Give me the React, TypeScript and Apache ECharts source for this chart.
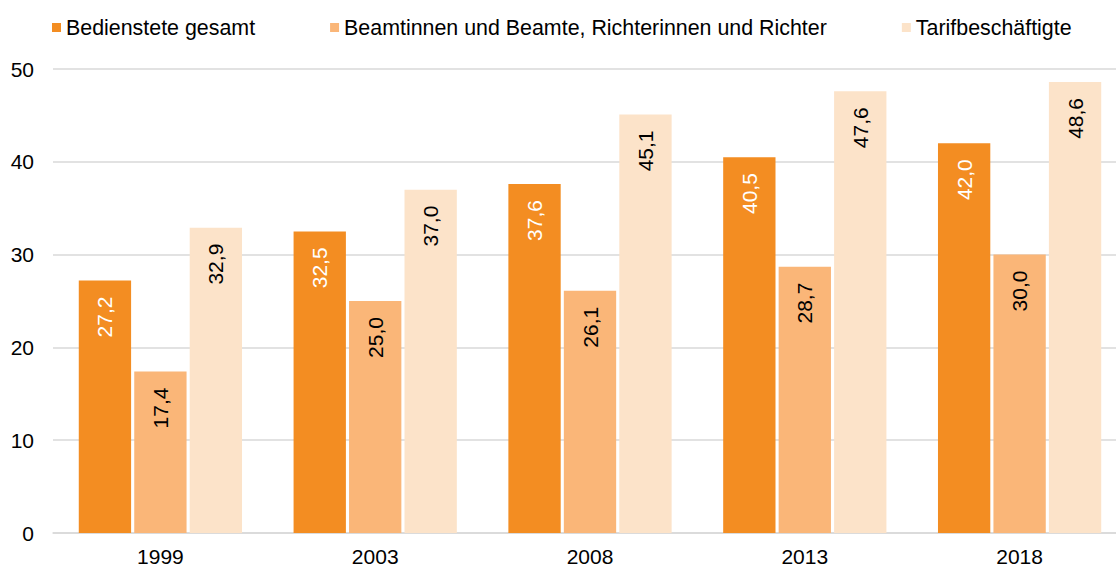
import React, { useEffect, useRef } from "react";
import * as echarts from "echarts";

const years = ["1999", "2003", "2008", "2013", "2018"];
const seriesNames = [
  "Bedienstete gesamt",
  "Beamtinnen und Beamte, Richterinnen und Richter",
  "Tarifbeschäftigte",
];
const bedienstete = [27.2, 32.5, 37.6, 40.5, 42.0];
const beamte = [17.4, 25.0, 26.1, 28.7, 30.0];
const tarif = [32.9, 37.0, 45.1, 47.6, 48.6];
const yTicks = { min: 0, max: 50, interval: 10 };

const colors = ["#F38D22", "#FAB678", "#FCE3C9"];
const labelColors = ["#FFFFFF", "#000000", "#000000"];
const FONT = '"Liberation Sans", Arial, sans-serif';

export default function App() {
  const ref = useRef<HTMLDivElement>(null);
  useEffect(() => {
    if (!ref.current) return;
    const chart = echarts.init(ref.current, undefined, { renderer: "svg" });
    const data = [bedienstete, beamte, tarif];
    chart.setOption({
      animation: false,
      textStyle: { fontFamily: FONT },
      legend: {
        left: 47,
        top: 12,
        icon: "rect",
        itemWidth: 9,
        itemHeight: 9,
        itemGap: 75,
        textStyle: { fontFamily: FONT, fontSize: 21.4, color: "#000" },
        data: seriesNames,
      },
      grid: { left: 53, right: 0, top: 69, bottom: 33, containLabel: false },
      xAxis: {
        type: "category",
        data: years,
        axisLine: { show: true, lineStyle: { color: "#D9D9D9", width: 1.5 } },
        axisTick: { show: false },
        axisLabel: { fontFamily: FONT, fontSize: 21, color: "#000", margin: 13 },
      },
      yAxis: {
        type: "value",
        min: yTicks.min,
        max: yTicks.max,
        interval: yTicks.interval,
        axisLine: { show: false },
        axisTick: { show: false },
        splitLine: { lineStyle: { color: "#D9D9D9", width: 1.5 } },
        axisLabel: { fontFamily: FONT, fontSize: 21, color: "#000", margin: 19 },
      },
      series: seriesNames.map((name, i) => ({
        name,
        type: "bar",
        data: data[i],
        barGap: "6%",
        barCategoryGap: "24%",
        itemStyle: { color: colors[i] },
        label: {
          show: true,
          position: "insideTop",
          rotate: 90,
          align: "right",
          verticalAlign: "middle",
          distance: 16,
          fontFamily: FONT,
          fontSize: 21,
          color: labelColors[i],
          formatter: (p: any) => Number(p.value).toFixed(1).replace(".", ","),
        },
      })),
    });
    return () => chart.dispose();
  }, []);
  return (
    <div
      style={{ position: "absolute", left: 0, top: 0, width: 1116, height: 567, overflow: "hidden" }}
    >
      <div ref={ref} style={{ width: 1127, height: 567 }} />
    </div>
  );
}
